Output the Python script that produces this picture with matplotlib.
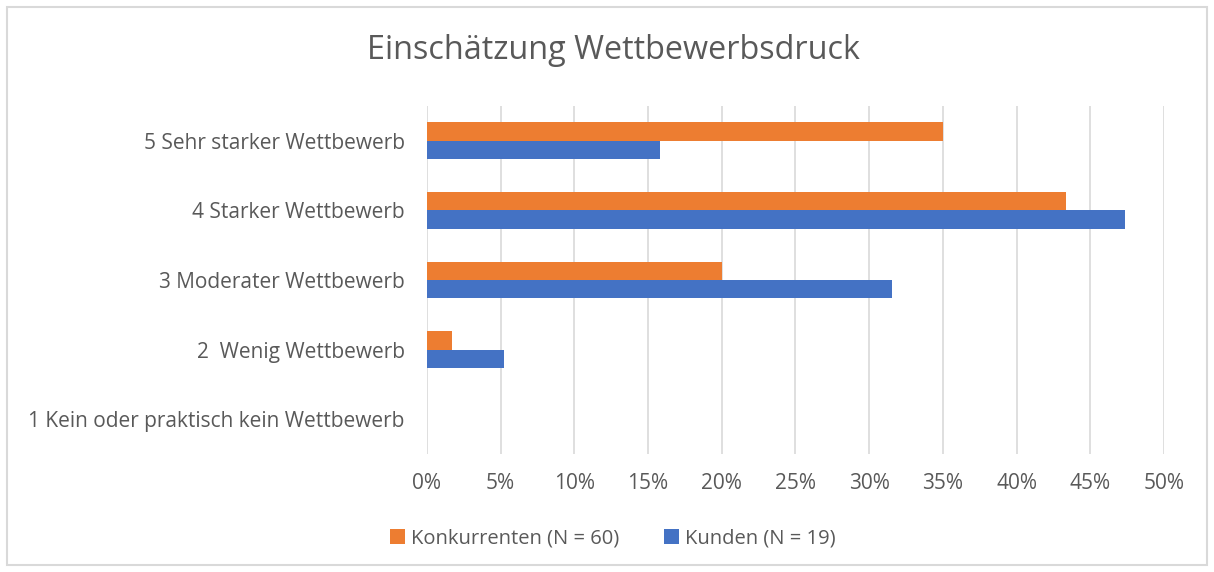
import numpy as np
import matplotlib.pyplot as plt
from matplotlib.patches import Rectangle

# Daten (Anteile in Prozent)
kategorien = ['1 Kein oder praktisch kein Wettbewerb', '2  Wenig Wettbewerb',
              '3 Moderater Wettbewerb', '4 Starker Wettbewerb', '5 Sehr starker Wettbewerb']
konkurrenten = [0.0, 1.67, 20.0, 43.33, 35.0]
kunden = [0.0, 5.26, 31.58, 47.37, 15.79]
x_ticks = [0, 5, 10, 15, 20, 25, 30, 35, 40, 45, 50]

text_farbe = '#595959'
plt.rcParams['font.family'] = ['Open Sans', 'DejaVu Sans']

fig = plt.figure(figsize=(12.14, 5.72), dpi=100)
ax = fig.add_axes([0.3517, 0.2063, 0.6071, 0.6084])

y = np.arange(len(kategorien))
h = 0.265
ax.barh(y + h / 2, konkurrenten, height=h, color='#ED7D31', label='Konkurrenten (N = 60)', zorder=3)
ax.barh(y - h / 2, kunden, height=h, color='#4472C4', label='Kunden (N = 19)', zorder=3)

ax.set_xlim(0, 50)
ax.set_ylim(-0.5, 4.5)
ax.set_xticks(x_ticks)
ax.set_xticklabels([f'{v}%' for v in x_ticks])
ax.set_yticks(y)
ax.set_yticklabels(kategorien)
ax.grid(axis='x', color='#D9D9D9', linewidth=1.2, zorder=0)
for s in ax.spines.values():
    s.set_visible(False)
ax.tick_params(axis='both', length=0, colors=text_farbe, labelsize=15)
ax.tick_params(axis='x', pad=14)
ax.tick_params(axis='y', pad=16)

fig.text(0.505, 0.912, 'Einschätzung Wettbewerbsdruck', ha='center', va='center',
         fontsize=23.3, color=text_farbe)

fig.legend(loc='center', bbox_to_anchor=(0.505, 0.058), ncol=2, frameon=False,
           fontsize=14.5, labelcolor=text_farbe, handlelength=0.75, handleheight=0.75,
           handletextpad=0.3, columnspacing=2.2)

# Rahmen um das Diagramm
fig.patches.append(Rectangle((0.006, 0.012), 0.988, 0.976, transform=fig.transFigure,
                             fill=False, edgecolor='#D9D9D9', linewidth=1.5))

fig.savefig('out.png', dpi=100, facecolor='white')
